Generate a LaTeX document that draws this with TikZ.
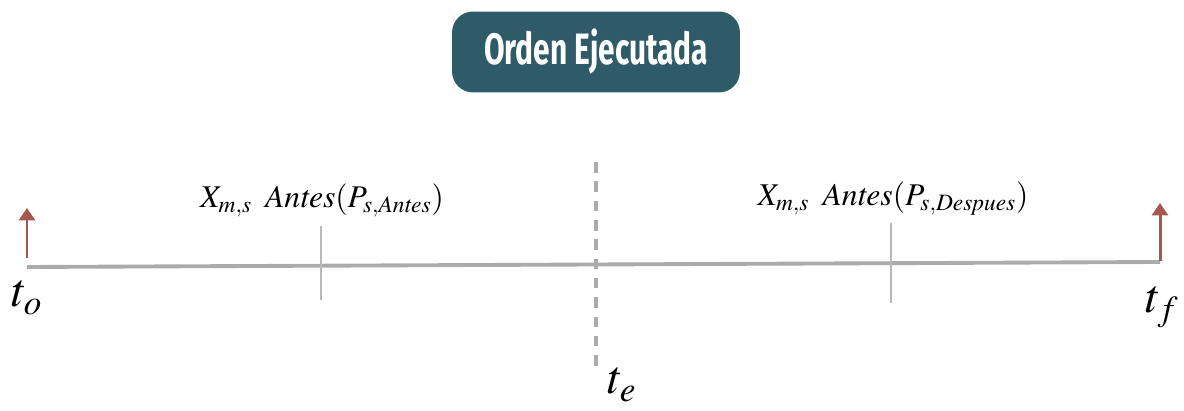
\documentclass[tikz,border=0pt]{standalone}
\usepackage{mathptmx}
\usepackage{fontspec}
\usetikzlibrary{arrows.meta}
\newfontfamily\boxfont[FakeStretch=0.68]{Fira Sans}
\definecolor{ordenteal}{HTML}{2F5B69}
\definecolor{flecha}{HTML}{A4574C}
\definecolor{linea}{HTML}{ABABAB}
\definecolor{marca}{HTML}{B8B8B8}

\begin{document}
\begin{tikzpicture}[x=0.02cm,y=-0.02cm,>=stealth]
\tikzset{
  ordenbox/.style={fill=ordenteal,rounded corners=12pt,text=white,minimum width=5.76cm,minimum height=1.62cm,font=\boxfont\bfseries\fontsize{25}{25}\selectfont},
  tlabel/.style={anchor=base,font=\fontsize{27}{27}\selectfont},
  xlabel/.style={anchor=base,font=\fontsize{18}{18}\selectfont},
  tick/.style={draw=marca,line width=0.8pt},
  flechaup/.style={->,draw=flecha,line width=1.7pt,>={Triangle[length=7pt,width=9pt]}}
}
\useasboundingbox (0,0) rectangle (1184,411);
\clip (0,0) rectangle (1184,411);
% title box
\node[ordenbox] (orden) at (596,52) {Orden Ejecutada};
% time line
\coordinate (inicio) at (27,267);
\coordinate (fin) at (1160,262);
\draw[draw=linea,line width=2.2pt] (inicio) -- (fin);
\draw[flechaup] (inicio) ++(0,-9) coordinate (a0) -- ++(0,-50) coordinate (a1);
\draw[flechaup] (fin) ++(0,-1) coordinate (b0) -- ++(0,-58) coordinate (b1);
% ticks
\coordinate (antesTop) at (321,226);
\coordinate (antesBot) at (321,300);
\coordinate (despTop) at (891,223);
\coordinate (despBot) at (891,303);
\draw[tick] (antesTop) -- (antesBot);
\draw[tick] (despTop) -- (despBot);
% execution time
\coordinate (eTop) at (596,162);
\coordinate (eBot) at (596,366);
\draw[draw=linea,line width=2.2pt,dash pattern=on 6pt off 5pt] (eTop) -- (eBot);
% labels
\node[xlabel] (antes) at (322,208) {$X_{m,s}\ \,\mathit{Antes}(P_{s,\mathit{Antes}})$};
\node[xlabel] (despues) at (893,206) {$X_{m,s}\ \,\mathit{Antes}(P_{s,\mathit{Despues}})$};
\node[tlabel] (to) at (27,307) {$t_o$};
\node[tlabel] (tf) at (1162,313) {$t_f$};
\node[tlabel] (te) at (622,394) {$t_e$};
\end{tikzpicture}
\end{document}
